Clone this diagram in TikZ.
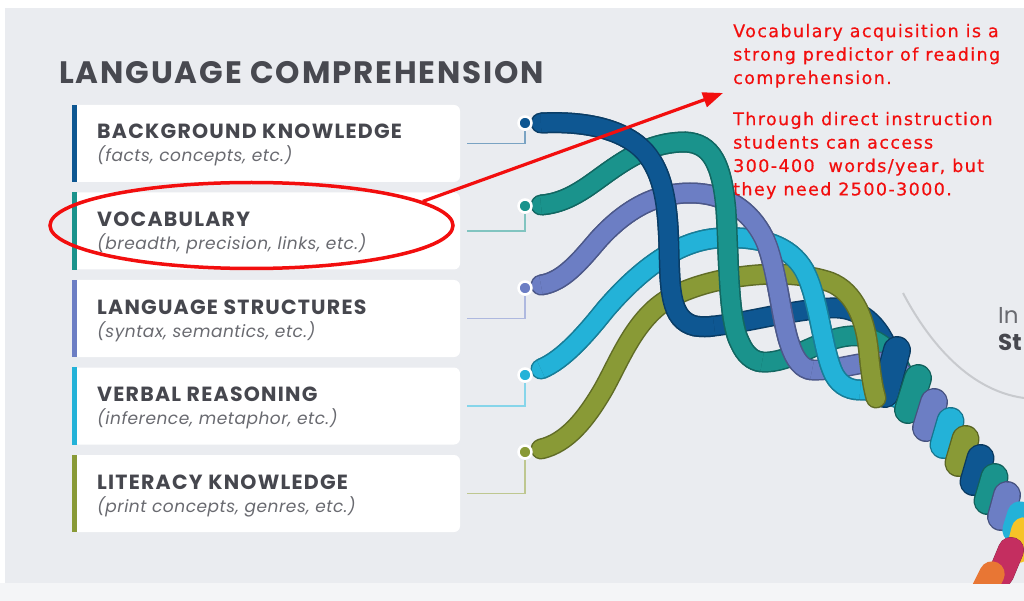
\documentclass[tikz,border=0pt]{standalone}
\usepackage{fontspec}
\usepackage{tikz}
\usetikzlibrary{arrows.meta,shapes.geometric}
\newfontfamily\slidefont{Poppins}
\newfontfamily\slidewide[LetterSpace=6]{Poppins}
\newfontfamily\slidesub[LetterSpace=3]{Poppins}
\newfontfamily\notefont[LetterSpace=8,FakeBold=0.6]{DejaVu Sans}
\definecolor{cBlue}{RGB}{14,87,146}
\definecolor{cTeal}{RGB}{26,147,140}
\definecolor{cPeri}{RGB}{108,126,196}
\definecolor{cCyan}{RGB}{35,178,216}
\definecolor{cOlive}{RGB}{137,154,54}
\definecolor{cYellow}{RGB}{246,196,40}
\definecolor{cMagenta}{RGB}{196,46,96}
\definecolor{cOrange}{RGB}{232,118,52}
\definecolor{slidebg}{RGB}{234,236,240}
\definecolor{stripbg}{RGB}{244,245,247}
\definecolor{titlegray}{RGB}{72,73,80}
\definecolor{headgray}{RGB}{70,71,78}
\definecolor{subgray}{RGB}{105,106,112}
\definecolor{arcgray}{RGB}{200,202,206}
\definecolor{annored}{RGB}{242,14,14}

\begin{document}
\begin{tikzpicture}[x=1pt,y=-1pt,
	card/.style={rectangle,fill=white,rounded corners=6pt,minimum width=388pt,minimum height=77pt,inner sep=0pt},
	headtxt/.style={anchor=base west,inner sep=0pt,text=headgray,font=\slidewide\bfseries\fontsize{20.5}{24}\selectfont},
	subtxt/.style={anchor=base west,inner sep=0pt,text=subgray,font=\slidesub\itshape\fontsize{17}{20}\selectfont},
	notetxt/.style={anchor=north west,inner sep=0pt,align=left,text=annored,font=\notefont\fontsize{17.5}{23.4}\selectfont},
	dotmark/.style={circle,draw=white,line width=2.5pt,minimum size=13pt,inner sep=0pt},
	linkline/.style={draw=#1!55!white,line width=1.6pt},
	strand/.style={line width=21pt,draw=#1!70!black,line cap=round,postaction={draw=#1,line width=18pt}},
	strandtop/.style={strand=#1,line cap=butt},
	twist/.style={line width=28pt,draw=#1!65!black,line cap=round,postaction={draw=#1,line width=25.4pt}}]
	\useasboundingbox (0,0) rectangle (1024,601);
	\fill[white] (0,0) rectangle (1024,601);
	\fill[slidebg] (5,8) rectangle (1024,583);
	\fill[stripbg] (0,583) rectangle (1024,601);

	\node[anchor=base west,inner sep=0pt,text=titlegray,font=\slidewide\bfseries\fontsize{31}{36}\selectfont] (title) at (59,83.5) {LANGUAGE COMPREHENSION};

	% cards
	\node[card] (card1) at (266,143.5) {};
	\node[card] (card2) at (266,231) {};
	\node[card] (card3) at (266,318.5) {};
	\node[card] (card4) at (266,406) {};
	\node[card] (card5) at (266,493.5) {};
	\fill[cBlue] (card1.north west) rectangle ([xshift=5pt]card1.south west);
	\fill[cTeal] (card2.north west) rectangle ([xshift=5pt]card2.south west);
	\fill[cPeri] (card3.north west) rectangle ([xshift=5pt]card3.south west);
	\fill[cCyan] (card4.north west) rectangle ([xshift=5pt]card4.south west);
	\fill[cOlive] (card5.north west) rectangle ([xshift=5pt]card5.south west);
	\node[headtxt] (head1) at (97,139) {BACKGROUND KNOWLEDGE};
	\node[subtxt] (sub1) at (97,162) {(facts, concepts, etc.)};
	\node[headtxt] (head2) at (97,226.5) {VOCABULARY};
	\node[subtxt] (sub2) at (97,249.5) {(breadth, precision, links, etc.)};
	\node[headtxt] (head3) at (97,314) {LANGUAGE STRUCTURES};
	\node[subtxt] (sub3) at (97,337) {(syntax, semantics, etc.)};
	\node[headtxt] (head4) at (97,401.5) {VERBAL REASONING};
	\node[subtxt] (sub4) at (97,424.5) {(inference, metaphor, etc.)};
	\node[headtxt] (head5) at (97,489) {LITERACY KNOWLEDGE};
	\node[subtxt] (sub5) at (97,512) {(print concepts, genres, etc.)};

	% strands, lower layer
	\draw[strand=cBlue] (541,123) .. controls (580,121) and (622,127) .. (645,152) .. controls (665,175) and (668,210) .. (669,250) .. controls (670,290) and (670,320) .. (695,326) .. controls (702,327) and (708,327) .. (714,326) .. controls (750,322) and (790,310) .. (830,308) .. controls (860,306) and (880,325) .. (890,355);
	\draw[strand=cTeal] (541,205) .. controls (568,203) and (587,187) .. (608,172) .. controls (632,155) and (655,142) .. (685,142) .. controls (712,143) and (722,165) .. (726,210) .. controls (729,260) and (728,320) .. (740,343) .. controls (745,354) and (752,361) .. (762,362) .. controls (790,364) and (820,338) .. (850,336) .. controls (875,334) and (895,350) .. (905,380);
	\draw[strand=cPeri] (541,285) .. controls (563,282) and (580,261) .. (598,240) .. controls (625,210) and (655,193) .. (690,193) .. controls (725,193) and (750,210) .. (764,238) .. controls (777,265) and (781,320) .. (790,345) .. controls (795,360) and (802,369) .. (812,370) .. controls (835,371) and (858,362) .. (878,362) .. controls (895,362) and (910,378) .. (918,400);
	\draw[strand=cCyan] (541,369) .. controls (563,360) and (585,335) .. (605,310) .. controls (635,275) and (675,240) .. (720,238) .. controls (762,236) and (790,246) .. (804,270) .. controls (818,295) and (822,345) .. (832,370) .. controls (837,383) and (847,390) .. (860,390) .. controls (875,390) and (895,395) .. (912,405);

	% twisted rope
	\begin{scope}
	\clip (5,8) rectangle (1024,583);
	\draw[twist=cBlue] (897,350) -- (885,394);
	\draw[twist=cTeal] (918,378) -- (908,410);
	\draw[twist=cPeri] (934,402) -- (926,428);
	\draw[twist=cCyan] (950.5,421) -- (943.5,445);
	\draw[twist=cOlive] (965.5,439) -- (958.5,463);
	\draw[twist=cBlue] (980.5,458) -- (973.5,482);
	\draw[twist=cTeal] (994.5,477) -- (987.5,501);
	\draw[twist=cPeri] (1007,495) -- (1001,517);
	\draw[twist=cCyan,line width=18pt] (1020,514) -- (1015,530);
	\draw[twist=cYellow,line width=16pt] (1024,530) -- (1019,550);
	\draw[twist=cMagenta,line width=26pt] (1011,550) -- (1001,574);
	\draw[twist=cOrange,line width=24pt] (992,574) -- (984,590);
	\end{scope}

	% strands, upper layer
	\draw[strand=cOlive] (541,449) .. controls (567,443) and (586,419) .. (603,390) .. controls (620,360) and (635,318) .. (670,298) .. controls (705,278) and (780,265) .. (830,282) .. controls (855,292) and (866,320) .. (869,355) .. controls (871,375) and (873,388) .. (876,398);
	\draw[strandtop=cCyan] (541,369) .. controls (563,360) and (585,335) .. (605,310) .. controls (635,275) and (675,240) .. (720,238) .. controls (762,236) and (790,246) .. (804,270) .. controls (818,295) and (822,345) .. (832,370) .. controls (837,383) and (847,390) .. (860,390);
	\draw[strandtop=cPeri] (541,285) .. controls (563,282) and (580,261) .. (598,240) .. controls (625,210) and (655,193) .. (690,193) .. controls (725,193) and (750,210) .. (764,238) .. controls (777,265) and (781,320) .. (790,345) .. controls (795,360) and (802,369) .. (812,370);
	\draw[strandtop=cTeal] (541,205) .. controls (568,203) and (587,187) .. (608,172) .. controls (632,155) and (655,142) .. (685,142) .. controls (712,143) and (722,165) .. (726,210) .. controls (729,260) and (728,320) .. (740,343) .. controls (745,354) and (752,361) .. (762,362);
	\draw[strandtop=cBlue] (541,123) .. controls (580,121) and (622,127) .. (645,152) .. controls (665,175) and (668,210) .. (669,250) .. controls (670,290) and (670,320) .. (695,326) .. controls (702,327) and (708,327) .. (714,326);

	% dots and links
	\node[dotmark,fill=cBlue] (dot1) at (525,123) {};
	\node[dotmark,fill=cTeal] (dot2) at (525,206) {};
	\node[dotmark,fill=cPeri] (dot3) at (525,288) {};
	\node[dotmark,fill=cCyan] (dot4) at (525,375) {};
	\node[dotmark,fill=cOlive] (dot5) at (525,452) {};
	\draw[linkline=cBlue] ([xshift=7pt]card1.east) -| (dot1);
	\draw[linkline=cTeal] ([xshift=7pt]card2.east) -| (dot2);
	\draw[linkline=cPeri] ([xshift=7pt]card3.east) -| (dot3);
	\draw[linkline=cCyan] ([xshift=7pt]card4.east) -| (dot4);
	\draw[linkline=cOlive] ([xshift=7pt]card5.east) -| (dot5);

	\draw[arcgray,line width=2pt] (903,293) .. controls (925,335) and (965,390) .. (1024,398);
	\node[anchor=base west,inner sep=0pt,text=subgray,font=\slidefont\fontsize{23}{28}\selectfont] (intxt) at (998,323) {In};
	\node[anchor=base west,inner sep=0pt,text=headgray,font=\slidefont\bfseries\fontsize{23}{28}\selectfont] (sttxt) at (998,350) {St};

	% annotation
	\node[ellipse,draw=annored,line width=3.5pt,minimum width=403pt,minimum height=86pt,inner sep=0pt] (vocabring) at (251.5,225.5) {};
	\coordinate (arrowtip) at (723,93);
	\draw[annored,line width=3.2pt,-{Triangle[length=20pt,width=15pt]}] (vocabring.8) -- (arrowtip);
	\node[notetxt] (note1) at (733,23.7) {Vocabulary acquisition is a\\strong predictor of reading\\comprehension.};
	\node[notetxt] (note2) at (733,111.7) {Through direct instruction\\students can access\\300-400\ \ words/year, but\\they need 2500-3000.};
\end{tikzpicture}
\end{document}
